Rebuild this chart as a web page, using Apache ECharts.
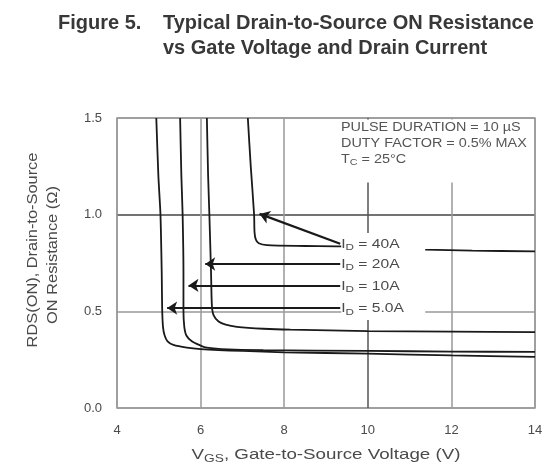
<!DOCTYPE html>
<html><head><meta charset="utf-8">
<script src="https://cdn.jsdelivr.net/npm/echarts@6/dist/echarts.min.js"></script>
<style>html,body{margin:0;padding:0;background:#fff}#c{width:558px;height:465px}</style>
</head><body><div id="c"></div>
<script>
// ---- data ----
const xTicks = [4, 6, 8, 10, 12, 14];
const yTicks = [0.0, 0.5, 1.0, 1.5];
const curve5A = [[4.94,1.5],[4.99,1.2],[5.04,1.0],[5.07,0.7],[5.08,0.52],[5.10,0.42],[5.14,0.375],[5.21,0.345],[5.35,0.326],[5.67,0.312],[6.0,0.305],[7.0,0.295],[8.0,0.288],[10.0,0.281],[12.0,0.272],[14.0,0.264]];
const curve10A = [[5.51,1.5],[5.54,1.2],[5.57,1.0],[5.59,0.7],[5.59,0.5],[5.61,0.42],[5.66,0.375],[5.79,0.345],[6.0,0.323],[6.15,0.312],[6.5,0.305],[7.5,0.299],[10.0,0.295],[12.0,0.292],[14.0,0.29]];
const curve20A = [[6.15,1.5],[6.18,1.2],[6.21,1.0],[6.25,0.7],[6.27,0.53],[6.31,0.48],[6.43,0.447],[6.6,0.431],[6.87,0.42],[7.5,0.41],[8.15,0.405],[10.0,0.398],[12.0,0.395],[14.0,0.392]];
const curve40A = [[7.13,1.5],[7.2,1.25],[7.28,1.0],[7.29,0.91],[7.32,0.872],[7.39,0.852],[7.59,0.842],[8.5,0.838],[9.34,0.836],[11.37,0.819],[12.5,0.814],[14.0,0.81]];
const curveNames = ['40A', '20A', '10A', '5.0A'];
// arrows: [tail, head] in data units
const arrow40A = [[9.34,0.85],[7.41,1.004]];
const arrow20A = [[9.34,0.745],[6.11,0.745]];
const arrow10A = [[9.34,0.634],[5.71,0.634]];
const arrow5A = [[9.34,0.517],[5.20,0.517]];
const noteLines = ['PULSE DURATION = 10 µS', 'DUTY FACTOR = 0.5% MAX'];

const chart = echarts.init(document.getElementById('c'), null, {renderer: 'canvas'});
const FONT = 'Liberation Sans, Arial, sans-serif';
const curveStyle = {color: '#1a1a1a', width: 1.8};
const TXT = '#4a4a4a';

function curve(d) {
  return {type: 'line', data: d, showSymbol: false, smooth: 0.25, lineStyle: curveStyle, z: 3, silent: true};
}

const option = {
  animation: false,
  backgroundColor: '#fff',
  grid: {left: 117, right: 23, top: 118, bottom: 57, show: true, borderColor: '#999', borderWidth: 1.5},
  xAxis: {
    type: 'value', min: 4, max: 14, interval: 2,
    axisLine: {show: false}, axisTick: {show: false},
    axisLabel: {color: TXT, fontSize: 13, fontFamily: FONT, margin: 16},
    splitLine: {show: true, lineStyle: {color: ['#999','#999','#999','#555','#999','#999'], width: 1.5}}
  },
  yAxis: {
    type: 'value', min: 0, max: 1.5, interval: 0.5,
    axisLine: {show: false}, axisTick: {show: false},
    axisLabel: {color: TXT, fontSize: 13, fontFamily: FONT, margin: 15, formatter: v => v.toFixed(1)},
    splitLine: {show: true, lineStyle: {color: ['#999','#999','#444','#999'], width: 1.5}}
  },
  series: [
    curve(curve5A), curve(curve10A), curve(curve20A), curve(curve40A),
    {
      type: 'lines', coordinateSystem: 'cartesian2d', silent: true, z: 7,
      symbol: ['none', 'arrow'], symbolSize: [0, 10],
      lineStyle: {color: '#1a1a1a', width: 2.2, opacity: 1},
      data: [arrow40A, arrow20A, arrow10A, arrow5A].map(c => ({coords: c}))
    }
  ]
};
chart.setOption(option);

const px = (x, y) => chart.convertToPixel({gridIndex: 0}, [x, y]);
const tails = [arrow40A[0], arrow20A[0], arrow10A[0], arrow5A[0]];
const pTop = px(14, 1.5);
const elements = [];
// white masks behind annotations (as in reference)
elements.push({type: 'rect', z: 5, shape: {x: 335, y: pTop[1] + 1.5, width: pTop[0] - 336.5, height: 63}, style: {fill: '#fff'}});
const t0 = px(tails[0][0], tails[0][1]);
elements.push({type: 'rect', z: 5, shape: {x: t0[0] + 1, y: 233, width: 84, height: 87}, style: {fill: '#fff'}});
tails.forEach((t, i) => {
  const p = px(t[0], t[1]);
  elements.push({type: 'text', z: 8, x: p[0] + 1, y: p[1] + 1, scaleX: 1.3, style: {
    text: '{m|I}{s|D}{m| = ' + curveNames[i] + '}', textVerticalAlign: 'middle', textAlign: 'left',
    rich: {m: {fontSize: 12, fontFamily: FONT, fill: TXT}, s: {fontSize: 9, fontFamily: FONT, fill: TXT, padding: [6,0,0,0]}}
  }});
});
noteLines.forEach((s, i) => {
  elements.push({type: 'text', z: 8, x: 341, y: 128 + i * 15.5, scaleX: 1.2, style: {text: s, fontSize: 12, fontFamily: FONT, fill: '#555', textVerticalAlign: 'middle'}});
});
elements.push({type: 'text', z: 8, x: 341, y: 160, scaleX: 1.2, style: {
  text: '{m|T}{s|C}{m| = 25°C}', textVerticalAlign: 'middle',
  rich: {m: {fontSize: 12, fontFamily: FONT, fill: '#555'}, s: {fontSize: 9, fontFamily: FONT, fill: '#555', padding: [6,0,0,0]}}
}});
// title
const TS = {fontSize: 20, fontWeight: 'bold', fontFamily: FONT, fill: '#383838', textVerticalAlign: 'middle'};
elements.push({type: 'text', x: 58, y: 23, style: Object.assign({text: 'Figure 5.'}, TS)});
elements.push({type: 'text', x: 163, y: 23, style: Object.assign({text: 'Typical Drain-to-Source ON Resistance'}, TS)});
elements.push({type: 'text', x: 163, y: 48, style: Object.assign({text: 'vs Gate Voltage and Drain Current'}, TS)});
// axis names
elements.push({type: 'text', x: 33, y: 250, rotation: Math.PI / 2, scaleX: 1.17, style: {text: 'RDS(ON), Drain-to-Source', fontSize: 14, fontFamily: FONT, fill: TXT, textAlign: 'center', textVerticalAlign: 'middle'}});
elements.push({type: 'text', x: 53, y: 255, rotation: Math.PI / 2, scaleX: 1.17, style: {text: 'ON Resistance (Ω)', fontSize: 14, fontFamily: FONT, fill: TXT, textAlign: 'center', textVerticalAlign: 'middle'}});
elements.push({type: 'text', x: 326, y: 455, scaleX: 1.25, style: {
  text: '{m|V}{s|GS}{m|, Gate-to-Source Voltage (V)}', textAlign: 'center', textVerticalAlign: 'middle',
  rich: {m: {fontSize: 15, fontFamily: FONT, fill: TXT}, s: {fontSize: 11, fontFamily: FONT, fill: TXT, padding: [8,0,0,0]}}
}});
chart.setOption({graphic: {elements: elements}});
</script></body></html>
